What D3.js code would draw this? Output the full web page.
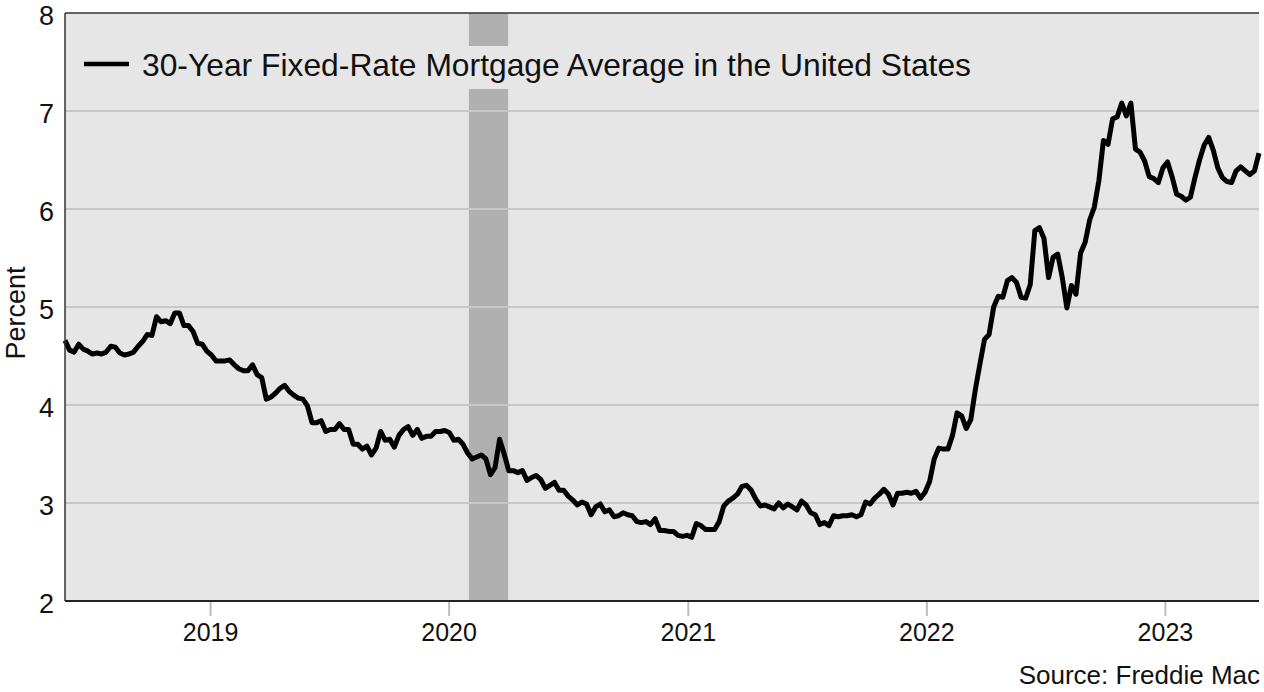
<!DOCTYPE html>
<html>
<head>
<meta charset="utf-8">
<script src="https://cdn.jsdelivr.net/npm/d3@7"></script>
<style>
  body { margin: 0; background: #fff; }
  text { font-family: "Liberation Sans", Arial, sans-serif; fill: #111; }
</style>
</head>
<body>
<div id="chart"></div>
<script>
// size of the page and the plot box
const WIDTH = 1264;
const HEIGHT = 692;
const MARGIN = { left: 65, right: 5, top: 13, bottom: 91 };

// weekly rates (percent), first week is 2018-05-24, one value per week
const firstWeek = "2018-05-24";
const rates2018 = [4.66, 4.56, 4.54, 4.62, 4.57, 4.55, 4.52, 4.53, 4.52, 4.54, 4.60, 4.59, 4.53, 4.51, 4.52, 4.54,
  4.60, 4.65, 4.72, 4.71, 4.90, 4.85, 4.86, 4.83, 4.94, 4.94, 4.81, 4.81, 4.75, 4.63, 4.62, 4.55];
const rates2019 = [4.51, 4.45, 4.45, 4.45, 4.46, 4.41, 4.37, 4.35, 4.35, 4.41, 4.31, 4.28, 4.06, 4.08, 4.12, 4.17,
  4.20, 4.14, 4.10, 4.07, 4.06, 3.99, 3.82, 3.82, 3.84, 3.73, 3.75, 3.75, 3.81, 3.75, 3.75, 3.60, 3.60, 3.55,
  3.58, 3.49, 3.56, 3.73, 3.64, 3.65, 3.57, 3.69, 3.75, 3.78, 3.69, 3.75, 3.66, 3.68, 3.68, 3.73, 3.73, 3.74];
const rates2020 = [3.72, 3.64, 3.65, 3.60, 3.51, 3.45, 3.47, 3.49, 3.45, 3.29, 3.36, 3.65, 3.50, 3.33, 3.33, 3.31,
  3.33, 3.23, 3.26, 3.28, 3.24, 3.15, 3.18, 3.21, 3.13, 3.13, 3.07, 3.03, 2.98, 3.01, 2.99, 2.88, 2.96, 2.99,
  2.91, 2.93, 2.86, 2.87, 2.90, 2.88, 2.87, 2.81, 2.80, 2.81, 2.78, 2.84, 2.72, 2.72, 2.71, 2.71, 2.67, 2.66, 2.67];
const rates2021 = [2.65, 2.79, 2.77, 2.73, 2.73, 2.73, 2.81, 2.97, 3.02, 3.05, 3.09, 3.17, 3.18, 3.13, 3.04, 2.97,
  2.98, 2.96, 2.94, 3.00, 2.95, 2.99, 2.96, 2.93, 3.02, 2.98, 2.90, 2.88, 2.78, 2.80, 2.77, 2.87, 2.86, 2.87,
  2.87, 2.88, 2.86, 2.88, 3.01, 2.99, 3.05, 3.09, 3.14, 3.09, 2.98, 3.10, 3.10, 3.11, 3.10, 3.12, 3.05, 3.11];
const rates2022 = [3.22, 3.45, 3.56, 3.55, 3.55, 3.69, 3.92, 3.89, 3.76, 3.85, 4.16, 4.42, 4.67, 4.72, 5.00, 5.11,
  5.10, 5.27, 5.30, 5.25, 5.10, 5.09, 5.23, 5.78, 5.81, 5.70, 5.30, 5.51, 5.54, 5.30, 4.99, 5.22, 5.13, 5.55,
  5.66, 5.89, 6.02, 6.29, 6.70, 6.66, 6.92, 6.94, 7.08, 6.95, 7.08, 6.61, 6.58, 6.49, 6.33, 6.31, 6.27, 6.42];
const rates2023 = [6.48, 6.33, 6.15, 6.13, 6.09, 6.12, 6.32, 6.50, 6.65, 6.73, 6.60, 6.42, 6.32, 6.28, 6.27, 6.39,
  6.43, 6.39, 6.35, 6.39, 6.57];

const yTicks = [2, 3, 4, 5, 6, 7, 8];
const xTickYears = [2019, 2020, 2021, 2022, 2023];
const recession = ["2020-02-01", "2020-04-01"];
const legendLabel = "30-Year Fixed-Rate Mortgage Average in the United States";
const yLabel = "Percent";
const sourceLabel = "Source: Freddie Mac";

draw();

function draw () {
  let parse = d3.timeParse("%Y-%m-%d");
  let start = parse(firstWeek);
  let rates = [].concat(rates2018, rates2019, rates2020, rates2021, rates2022, rates2023);
  let data = rates.map((r, i) => ({ date: d3.timeWeek.offset(start, i), rate: r }));

  let svg = d3.select("#chart").append("svg")
    .attr("width", WIDTH)
    .attr("height", HEIGHT);

  let x0 = MARGIN.left, x1 = WIDTH - MARGIN.right;
  let y0 = MARGIN.top, y1 = HEIGHT - MARGIN.bottom;

  let xScale = d3.scaleTime()
    .domain(d3.extent(data, d => d.date))
    .range([x0, x1]);
  let yScale = d3.scaleLinear()
    .domain([2, 8])
    .range([y1, y0]);

  // plot background
  svg.append("rect")
    .attr("x", x0).attr("y", y0)
    .attr("width", x1 - x0).attr("height", y1 - y0)
    .attr("fill", "#e6e6e6");

  // recession band
  svg.append("rect")
    .attr("x", xScale(parse(recession[0])))
    .attr("y", y0)
    .attr("width", xScale(parse(recession[1])) - xScale(parse(recession[0])))
    .attr("height", y1 - y0)
    .attr("fill", "#b0b0b0");

  // gridlines
  svg.append("g")
    .selectAll("line")
    .data(yTicks.filter(t => t > 2 && t < 8))
    .enter().append("line")
    .attr("x1", x0).attr("x2", x1)
    .attr("y1", d => yScale(d)).attr("y2", d => yScale(d))
    .attr("stroke", "#c8c8c8")
    .attr("stroke-width", 2);

  // legend box sits over the band
  svg.append("rect")
    .attr("x", 75).attr("y", 46)
    .attr("width", 920).attr("height", 43)
    .attr("fill", "#e6e6e6");
  svg.append("line")
    .attr("x1", 84).attr("x2", 129)
    .attr("y1", 64).attr("y2", 64)
    .attr("stroke", "#000")
    .attr("stroke-width", 4.5);
  svg.append("text")
    .attr("x", 142).attr("y", 76)
    .attr("font-size", 31.8)
    .text(legendLabel);

  // the series
  let line = d3.line()
    .x(d => xScale(d.date))
    .y(d => yScale(d.rate));
  svg.append("path")
    .datum(data)
    .attr("fill", "none")
    .attr("stroke", "#000")
    .attr("stroke-width", 5)
    .attr("stroke-linejoin", "round")
    .attr("d", line);

  // borders
  svg.append("line")
    .attr("x1", x0).attr("x2", x1).attr("y1", y0).attr("y2", y0)
    .attr("stroke", "#333").attr("stroke-width", 1.5);
  svg.append("line")
    .attr("x1", x0).attr("x2", x0).attr("y1", y0).attr("y2", y1)
    .attr("stroke", "#333").attr("stroke-width", 1.5);

  // x axis
  let xAxis = svg.append("g")
    .attr("transform", "translate(0," + y1 + ")")
    .call(d3.axisBottom(xScale)
      .tickValues(xTickYears.map(y => new Date(y, 0, 1)))
      .tickFormat(d3.timeFormat("%Y"))
      .tickSize(15)
      .tickPadding(7));
  xAxis.select(".domain").remove();
  xAxis.selectAll(".tick line").attr("stroke", "#bdbdbd").attr("stroke-width", 2);
  xAxis.selectAll(".tick text").attr("font-size", 25).attr("font-family", null).attr("fill", "#111");
  svg.append("line")
    .attr("x1", x0).attr("x2", x1).attr("y1", y1).attr("y2", y1)
    .attr("stroke", "#222").attr("stroke-width", 2);

  // y axis
  let yAxis = svg.append("g")
    .attr("transform", "translate(" + x0 + ",0)")
    .call(d3.axisLeft(yScale)
      .tickValues(yTicks)
      .tickFormat(d3.format("d"))
      .tickSize(0)
      .tickPadding(11));
  yAxis.select(".domain").remove();
  yAxis.selectAll(".tick text")
    .attr("font-size", 27)
    .attr("dy", "0.43em")
    .attr("font-family", null)
    .attr("fill", "#111");

  svg.append("text")
    .attr("transform", "translate(25,313) rotate(-90)")
    .attr("text-anchor", "middle")
    .attr("font-size", 27)
    .text(yLabel);

  svg.append("text")
    .attr("x", 1260).attr("y", 684)
    .attr("text-anchor", "end")
    .attr("font-size", 26)
    .text(sourceLabel);
}
</script>
</body>
</html>
